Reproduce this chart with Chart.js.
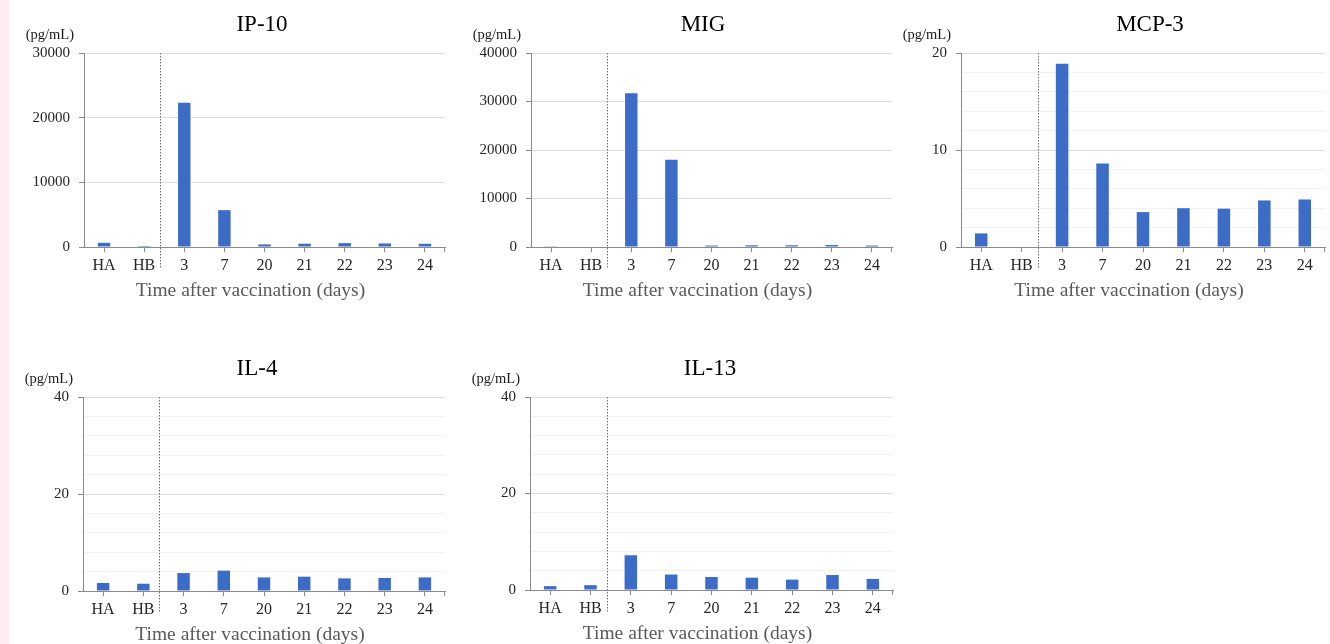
<!DOCTYPE html>
<html>
<head>
<meta charset="utf-8">
<script src="https://cdn.jsdelivr.net/npm/chart.js@4.4.1/dist/chart.umd.min.js"></script>
<style>
  html, body { margin: 0; padding: 0; background: #ffffff; }
  body { width: 1330px; height: 644px; overflow: hidden; position: relative; }
  #strip { position: absolute; left: 0; top: 0; width: 9px; height: 644px; background: #fdecef; }
  canvas { position: absolute; }
</style>
</head>
<body>
<div id="strip"></div>
<script>
// ---------- data ----------
const categories = ['HA', 'HB', '3', '7', '20', '21', '22', '23', '24'];
const ip10  = [650, 150, 22300, 5700, 400, 500, 600, 550, 500];
const mig   = [150, 100, 31700, 18000, 300, 350, 350, 400, 300];
const mcp3  = [1.4, 0, 18.9, 8.6, 3.6, 4.0, 3.95, 4.8, 4.9];
const il4   = [1.65, 1.5, 3.7, 4.2, 2.8, 2.95, 2.6, 2.7, 2.8];
const il13  = [0.8, 1.0, 7.2, 3.2, 2.7, 2.55, 2.15, 3.1, 2.3];
const panelTitles = ['IP-10', 'MIG', 'MCP-3', 'IL-4', 'IL-13'];
const yMax       = [30000, 40000, 20, 40, 40];
const yMajorStep = [10000, 10000, 10, 20, 20];
const yMinorStep = [10000, 10000, 2, 4, 4];
const unitLabel = '(pg/mL)';
const xAxisTitle = 'Time after vaccination (days)';
const seriesList = [ip10, mig, mcp3, il4, il13];

// ---------- layout (plot-area boxes in page pixels) ----------
const boxes = [
  { l: 84,  r: 445,  t: 53,  b: 247, tx: 262 },
  { l: 531, r: 892,  t: 53,  b: 247, tx: 703 },
  { l: 961, r: 1325, t: 53,  b: 247, tx: 1150 },
  { l: 83,  r: 445,  t: 397, b: 591, tx: 257 },
  { l: 530, r: 893,  t: 397, b: 590, tx: 710 }
];
const LEFT_ROOM = 80, TOP_ROOM = 53, RIGHT_ROOM = 10, BOTTOM_ROOM = 56;
const SEPARATOR_POS = 1.4;
const FONT = '"Liberation Serif", "Times New Roman", serif';
const BAR_COLOR = '#3d6cc6';
const AXIS_COLOR = '#8a8a8a';

const decorPlugin = {
  id: 'decor',
  afterDatasetsDraw(chart, args, opts) {
    const ctx = chart.ctx;
    const a = chart.chartArea;
    const xs = chart.scales.x;
    ctx.save();
    // dotted separator between HB and 3
    const p1 = xs.getPixelForValue(1), p2 = xs.getPixelForValue(2);
    const sx = Math.round(p1 + (SEPARATOR_POS - 1) * (p2 - p1)) + 0.5;
    ctx.strokeStyle = '#6f6f6f';
    ctx.lineWidth = 1;
    ctx.setLineDash([1.5, 1.5]);
    ctx.beginPath();
    ctx.moveTo(sx, a.top);
    ctx.lineTo(sx, a.bottom + 22);
    ctx.stroke();
    ctx.setLineDash([]);
    // end tick at right of x axis
    ctx.strokeStyle = AXIS_COLOR;
    ctx.beginPath();
    const rx = Math.round(a.right) - 0.5;
    ctx.moveTo(rx, a.bottom);
    ctx.lineTo(rx, a.bottom + 5);
    ctx.stroke();
    // title
    ctx.fillStyle = '#000000';
    ctx.font = '23px ' + FONT;
    ctx.textAlign = 'center';
    ctx.textBaseline = 'alphabetic';
    ctx.fillText(opts.title, opts.titleX, a.top - 22.5);
    // unit label
    ctx.font = '14.5px ' + FONT;
    ctx.textAlign = 'right';
    ctx.fillStyle = '#1a1a1a';
    ctx.fillText(unitLabel, a.left - 10, a.top - 14.5);
    // x axis title
    ctx.font = '19.5px ' + FONT;
    ctx.textAlign = 'center';
    ctx.fillStyle = '#595959';
    ctx.fillText(xAxisTitle, (a.left + a.right) / 2 - 14, a.bottom + 48.5);
    ctx.restore();
  }
};

boxes.forEach((bx, i) => {
  const cv = document.createElement('canvas');
  const W = (bx.r - bx.l) + LEFT_ROOM + RIGHT_ROOM;
  const H = (bx.b - bx.t) + TOP_ROOM + BOTTOM_ROOM;
  const cl = bx.l - LEFT_ROOM, ct = bx.t - TOP_ROOM;
  cv.width = W; cv.height = H;
  cv.style.left = cl + 'px';
  cv.style.top = ct + 'px';
  cv.style.width = W + 'px';
  cv.style.height = H + 'px';
  document.body.appendChild(cv);
  const major = yMajorStep[i];
  const isMajor = v => Math.abs(v / major - Math.round(v / major)) < 1e-6;
  new Chart(cv, {
    type: 'bar',
    data: {
      labels: categories,
      datasets: [{
        data: seriesList[i],
        backgroundColor: BAR_COLOR,
        borderWidth: 0,
        barPercentage: 0.31,
        categoryPercentage: 1.0
      }]
    },
    options: {
      responsive: false,
      animation: false,
      devicePixelRatio: 1,
      layout: { padding: { left: 0, top: TOP_ROOM, right: RIGHT_ROOM, bottom: 0 } },
      plugins: {
        legend: { display: false },
        tooltip: { enabled: false },
        title: { display: false },
        decor: { title: panelTitles[i], titleX: bx.tx - cl }
      },
      scales: {
        x: {
          offset: true,
          afterFit: (s) => { s.height = BOTTOM_ROOM; },
          grid: {
            display: true, drawOnChartArea: false, drawTicks: true,
            offset: false, tickLength: 5, tickColor: AXIS_COLOR, tickWidth: 1
          },
          border: { display: true, color: AXIS_COLOR, width: 1 },
          ticks: {
            color: '#262626', font: { family: FONT, size: 16 },
            padding: 4, maxRotation: 0, autoSkip: false
          }
        },
        y: {
          min: 0, max: yMax[i],
          afterFit: (s) => { s.width = LEFT_ROOM; },
          grid: {
            display: true, drawOnChartArea: true, drawTicks: true, tickLength: 5,
            color: (c) => (c.tick && isMajor(c.tick.value)) ? '#dcdcdc' : '#f1f1f1',
            tickColor: (c) => (c.tick && isMajor(c.tick.value)) ? AXIS_COLOR : 'rgba(0,0,0,0)',
            lineWidth: 1
          },
          border: { display: true, color: AXIS_COLOR, width: 1 },
          ticks: {
            stepSize: yMinorStep[i],
            color: '#262626', font: { family: FONT, size: 15 }, padding: 9,
            autoSkip: false,
            callback: (v) => isMajor(v) ? String(v) : ''
          }
        }
      }
    },
    plugins: [decorPlugin]
  });
});
</script>
</body>
</html>
